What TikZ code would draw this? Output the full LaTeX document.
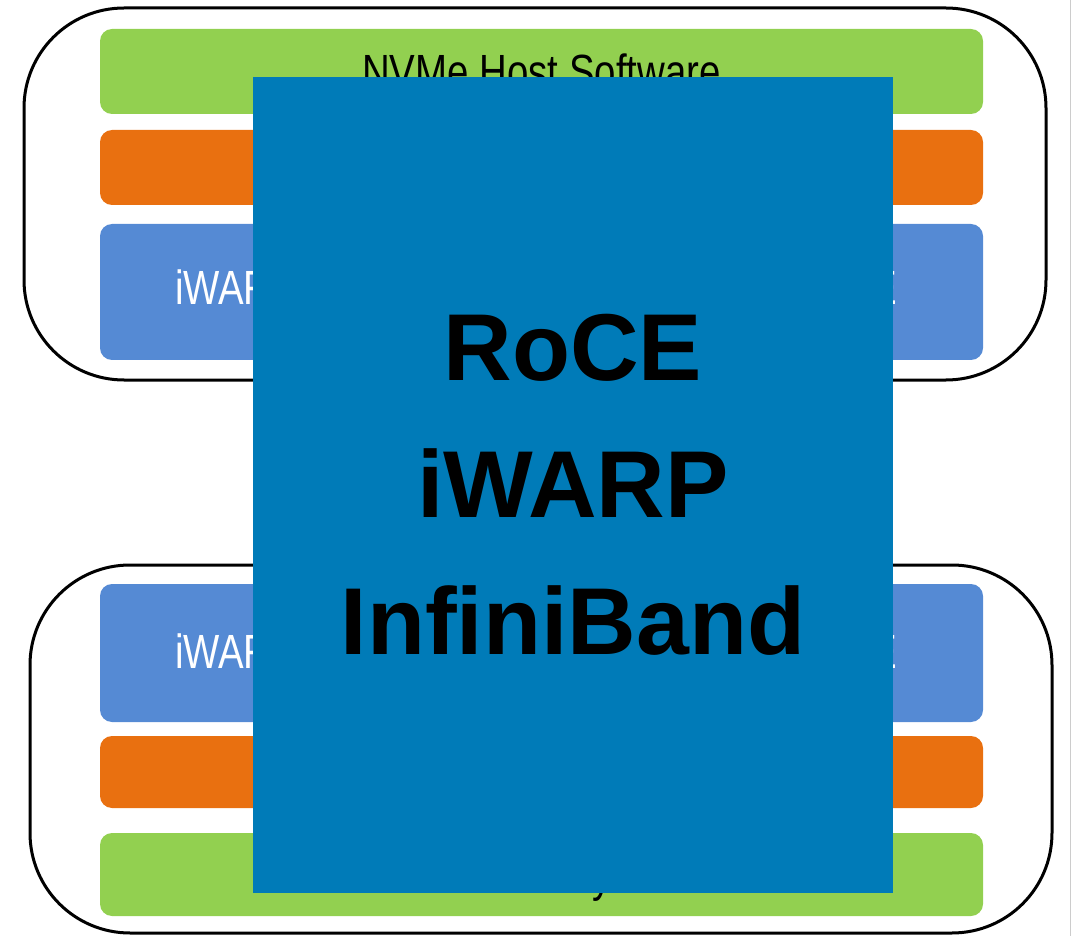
\documentclass[tikz,border=0pt]{standalone}
\usepackage{fontspec}
\setmainfont{Liberation Sans}
\newfontfamily\narrowfont[FakeStretch=0.8]{Liberation Sans}
\usepackage{tikz}
\usetikzlibrary{positioning}

\definecolor{layergreen}{RGB}{146,208,80}
\definecolor{layerorange}{RGB}{233,112,16}
\definecolor{layerblue}{RGB}{85,138,212}
\definecolor{fabricblue}{RGB}{0,123,184}

\begin{document}
\begin{tikzpicture}[x=1pt, y=-1pt, every node/.style={inner sep=0pt, outer sep=0pt},
	stack/.style={draw, line width=3pt, rounded corners=100pt, minimum width=1022pt},
	layer/.style={rounded corners=12pt, minimum width=883pt},
	layertext/.style={font=\narrowfont\fontsize{48}{48}\selectfont},
	fabric/.style={fill=fabricblue, minimum width=640pt, minimum height=816pt, align=center,
		font=\bfseries\fontsize{95}{137}\selectfont}]
	\useasboundingbox (0,0) rectangle (1072,936);
	\draw[gray!40, line width=1.5pt] (1070.5,0) -- (1070.5,936);
	% host side
	\node[stack, minimum height=372pt] (host_stack) at (535,194) {};
	\node[layer, fill=layergreen, minimum height=85pt] (host_sw) at (541.5,71.5) {};
	\node[layer, fill=layerorange, minimum height=75pt] (host_tr) at (541.5,167.5) {};
	\node[layer, fill=layerblue, minimum height=136pt] (host_fab) at (541.5,292) {};
	\node[layertext, anchor=base] (host_sw_text) at (541.5,89) {NVMe Host Software};
	\node[layertext, text=white, anchor=base west] (host_left) at (175,305) {iWARP};
	\node[layertext, text=white, anchor=base east] (host_right) at (897,305) {RoCE};
	% subsystem side
	\node[stack, minimum height=368pt] (sub_stack) at (541,749) {};
	\node[layer, fill=layerblue, minimum height=138pt] (sub_fab) at (541.5,653) {};
	\node[layer, fill=layerorange, minimum height=72pt] (sub_tr) at (541.5,772) {};
	\node[layer, fill=layergreen, minimum height=83pt] (sub_sys) at (541.5,874.5) {};
	\node[layertext, anchor=base] (sub_sys_text) at (541.5,891) {NVMe Subsystem};
	\node[layertext, text=white, anchor=base west] (sub_left) at (175,668) {iWARP};
	\node[layertext, text=white, anchor=base east] (sub_right) at (897,668) {RoCE};
	% fabrics overlay
	\node[fabric] (fabrics) at (573,485) {RoCE\\iWARP\\InfiniBand};
\end{tikzpicture}
\end{document}
